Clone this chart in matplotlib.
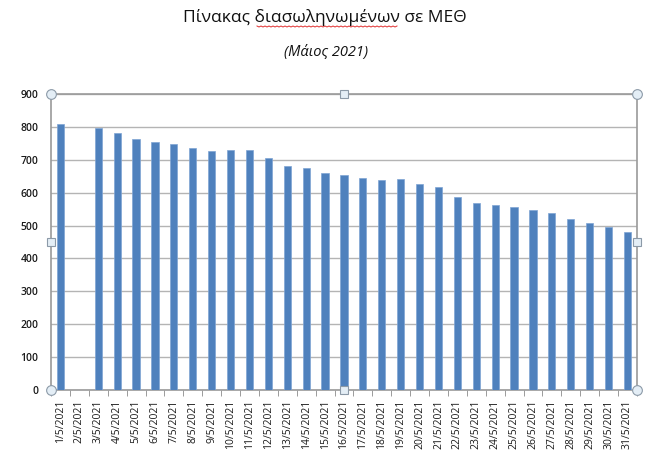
import matplotlib.pyplot as plt
from matplotlib.lines import Line2D

dates = ['%d/5/2021' % d for d in range(1, 32)]
values = [809, 0, 796, 781, 763, 754, 749, 735, 726, 731, 731, 706, 681, 676, 660,
          655, 646, 638, 641, 626, 616, 586, 568, 563, 556, 546, 538, 520, 508, 496, 481]
yticks = list(range(0, 1000, 100))

plt.rcParams['font.family'] = ['Open Sans', 'DejaVu Sans']

W, H = 658, 476
fig = plt.figure(figsize=(W / 100, H / 100), dpi=100)
ax = fig.add_axes([0.0775, 0.1807, 0.8905, 0.6218])

x = range(len(dates))
ax.bar(x, values, width=0.38, color='#4F81BD', edgecolor='#7FA4D4', linewidth=0.5, zorder=3)

ax.set_xlim(-0.5, len(dates) - 0.5)
ax.set_ylim(0, 900)
ax.set_yticks(yticks)
ax.set_yticklabels([str(v) for v in yticks], fontsize=7.5, color='#1a1a1a', fontweight='semibold')
ax.set_xticks(list(x))
ax.set_xticklabels(dates, rotation=90, fontsize=7.5, color='#1a1a1a')
ax.set_xticks([i + 0.5 for i in range(-1, len(dates))], minor=True)
ax.tick_params(axis='x', which='major', length=0, pad=7)
ax.tick_params(axis='x', which='minor', length=4, color='#8c8c8c')
ax.tick_params(axis='y', length=0, pad=9)

ax.grid(axis='y', color='#b4b4b4', linewidth=1.0, zorder=0)
for s in ax.spines.values():
    s.set_color('#9a9a9a')
    s.set_linewidth(1.2)

# selection handles
for (hx, hy) in [(0, 0), (1, 0), (0, 1), (1, 1)]:
    ax.plot(hx, hy, 'o', ms=7, mfc='#e4eef6', mec='#8c9aa8', mew=0.8,
            transform=ax.transAxes, clip_on=False, zorder=5)
for (hx, hy) in [(0.5, 0), (0.5, 1), (0, 0.5), (1, 0.5)]:
    ax.plot(hx, hy, 's', ms=5.5, mfc='#e4eef6', mec='#8c9aa8', mew=0.8,
            transform=ax.transAxes, clip_on=False, zorder=5)

fig.text(0.493, 0.963, 'Πίνακας διασωληνωμένων σε ΜΕΘ', ha='center', va='center', fontsize=12.5, color='#111111')
fig.text(0.495, 0.89, '(Μάιος 2021)', ha='center', va='center', fontsize=10.5, style='italic', color='#111111')

# spell-check squiggle under the second word
zx = [257 + 2 * i for i in range(71)]
zy = [H - 26 - (1 if i % 2 else 0) for i in range(71)]
fig.add_artist(Line2D([v / W for v in zx], [v / H for v in zy], color='#e03030',
                      linewidth=0.7, transform=fig.transFigure))

fig.savefig('out.png', dpi=100)
